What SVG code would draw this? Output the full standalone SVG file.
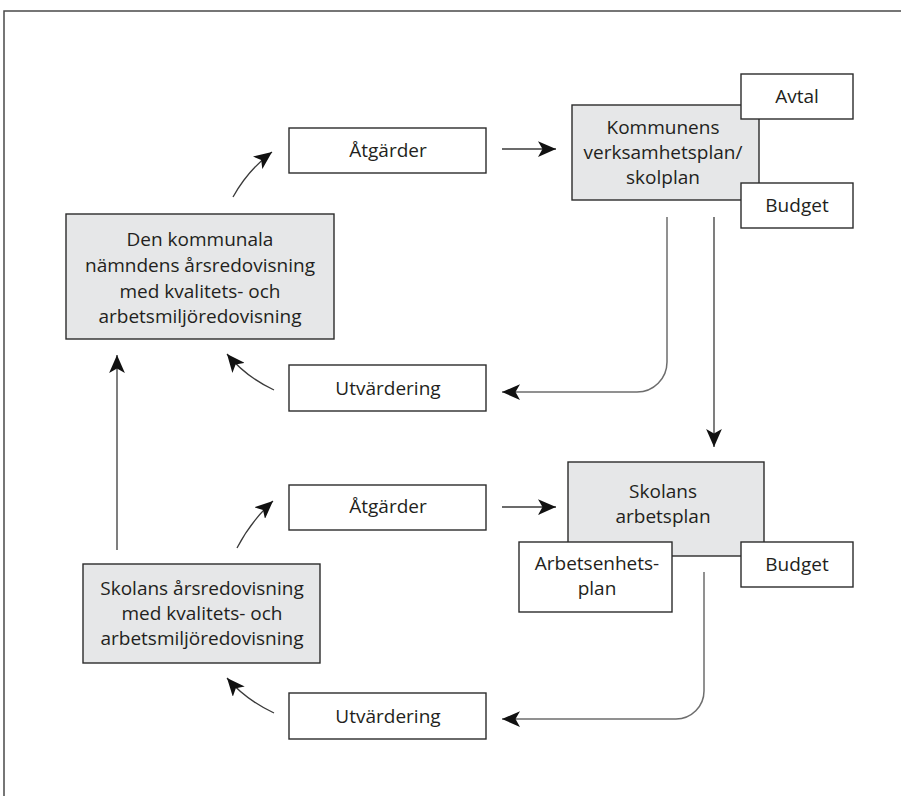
<svg xmlns="http://www.w3.org/2000/svg" width="901" height="796" viewBox="0 0 901 796">
<defs>
<style>
.box{fill:#fff;stroke:#2b2b2b;stroke-width:1.4}
.gbox{fill:#e6e7e8;stroke:#2b2b2b;stroke-width:1.4}
.t{font-family:"Open Sans","Noto Sans","Liberation Sans",sans-serif;font-size:19px;fill:#231f20;text-anchor:middle}
.c{fill:none;stroke:#3a3a3a;stroke-width:1.3}
.g{fill:none;stroke:#6d6d6d;stroke-width:1.5}
</style>
<marker id="ah" markerUnits="userSpaceOnUse" viewBox="0 0 16 14" refX="16" refY="7" markerWidth="18" markerHeight="15.75" orient="auto">
<path d="M0,0 L16,7 L0,14 L4,7 z" fill="#111"/>
</marker>
</defs>
<rect width="901" height="796" fill="#fff"/>
<path d="M4,796 V11 H901" fill="none" stroke="#4a4a4a" stroke-width="1.5"/>

<g id="connectors">
<path class="c" d="M502,149 H556" marker-end="url(#ah)"/>
<path class="g" d="M667,217 V362 A30,30 0 0 1 637,392 H502" marker-end="url(#ah)"/>
<path class="c" d="M714,217 V447" marker-end="url(#ah)"/>
<path class="c" d="M274,390 Q246,377 227,354" marker-end="url(#ah)"/>
<path class="c" d="M233,197 Q248,170 272,152" marker-end="url(#ah)"/>
<path class="c" d="M117,550 V355" marker-end="url(#ah)"/>
<path class="c" d="M237,548 Q251,521 273,501" marker-end="url(#ah)"/>
<path class="c" d="M502,507 H556" marker-end="url(#ah)"/>
<path class="g" d="M704,572 V691 A28,28 0 0 1 676,719 H502" marker-end="url(#ah)"/>
<path class="c" d="M274,713 Q246,700 227,678" marker-end="url(#ah)"/>
</g>

<g id="atgarder1">
<rect class="box" x="289" y="128" width="197" height="45"/>
<text class="t" x="388" y="157">Åtgärder</text>
</g>

<g id="kommunens">
<rect class="gbox" x="572" y="105" width="187" height="95"/>
<text class="t" x="663" y="134">Kommunens</text>
<text class="t" x="663" y="159">verksamhetsplan/</text>
<text class="t" x="663" y="184">skolplan</text>
</g>

<g id="avtal">
<rect class="box" x="741" y="74" width="112" height="45"/>
<text class="t" x="797" y="103">Avtal</text>
</g>

<g id="budget1">
<rect class="box" x="741" y="183" width="112" height="45"/>
<text class="t" x="797" y="212">Budget</text>
</g>

<g id="den-kommunala">
<rect class="gbox" x="66" y="214" width="268" height="125"/>
<text class="t" x="200" y="246">Den kommunala</text>
<text class="t" x="200" y="272">nämndens årsredovisning</text>
<text class="t" x="200" y="298">med kvalitets- och</text>
<text class="t" x="200" y="323">arbetsmiljöredovisning</text>
</g>

<g id="utvardering1">
<rect class="box" x="289" y="365" width="197" height="46"/>
<text class="t" x="388" y="395">Utvärdering</text>
</g>

<g id="atgarder2">
<rect class="box" x="289" y="485" width="197" height="45"/>
<text class="t" x="388" y="513">Åtgärder</text>
</g>

<g id="skolans-arbetsplan">
<rect class="gbox" x="568" y="462" width="196" height="94"/>
<text class="t" x="663" y="498">Skolans</text>
<text class="t" x="663" y="523">arbetsplan</text>
</g>

<g id="arbetsenhetsplan">
<rect class="box" x="519" y="542" width="153" height="70"/>
<text class="t" x="597" y="570">Arbetsenhets-</text>
<text class="t" x="597" y="595">plan</text>
</g>

<g id="budget2">
<rect class="box" x="741" y="542" width="112" height="45"/>
<text class="t" x="797" y="571">Budget</text>
</g>

<g id="skolans-arsredovisning">
<rect class="gbox" x="83" y="564" width="237" height="99"/>
<text class="t" x="202" y="595">Skolans årsredovisning</text>
<text class="t" x="202" y="620">med kvalitets- och</text>
<text class="t" x="202" y="645">arbetsmiljöredovisning</text>
</g>

<g id="utvardering2">
<rect class="box" x="289" y="693" width="197" height="46"/>
<text class="t" x="388" y="723">Utvärdering</text>
</g>
</svg>
